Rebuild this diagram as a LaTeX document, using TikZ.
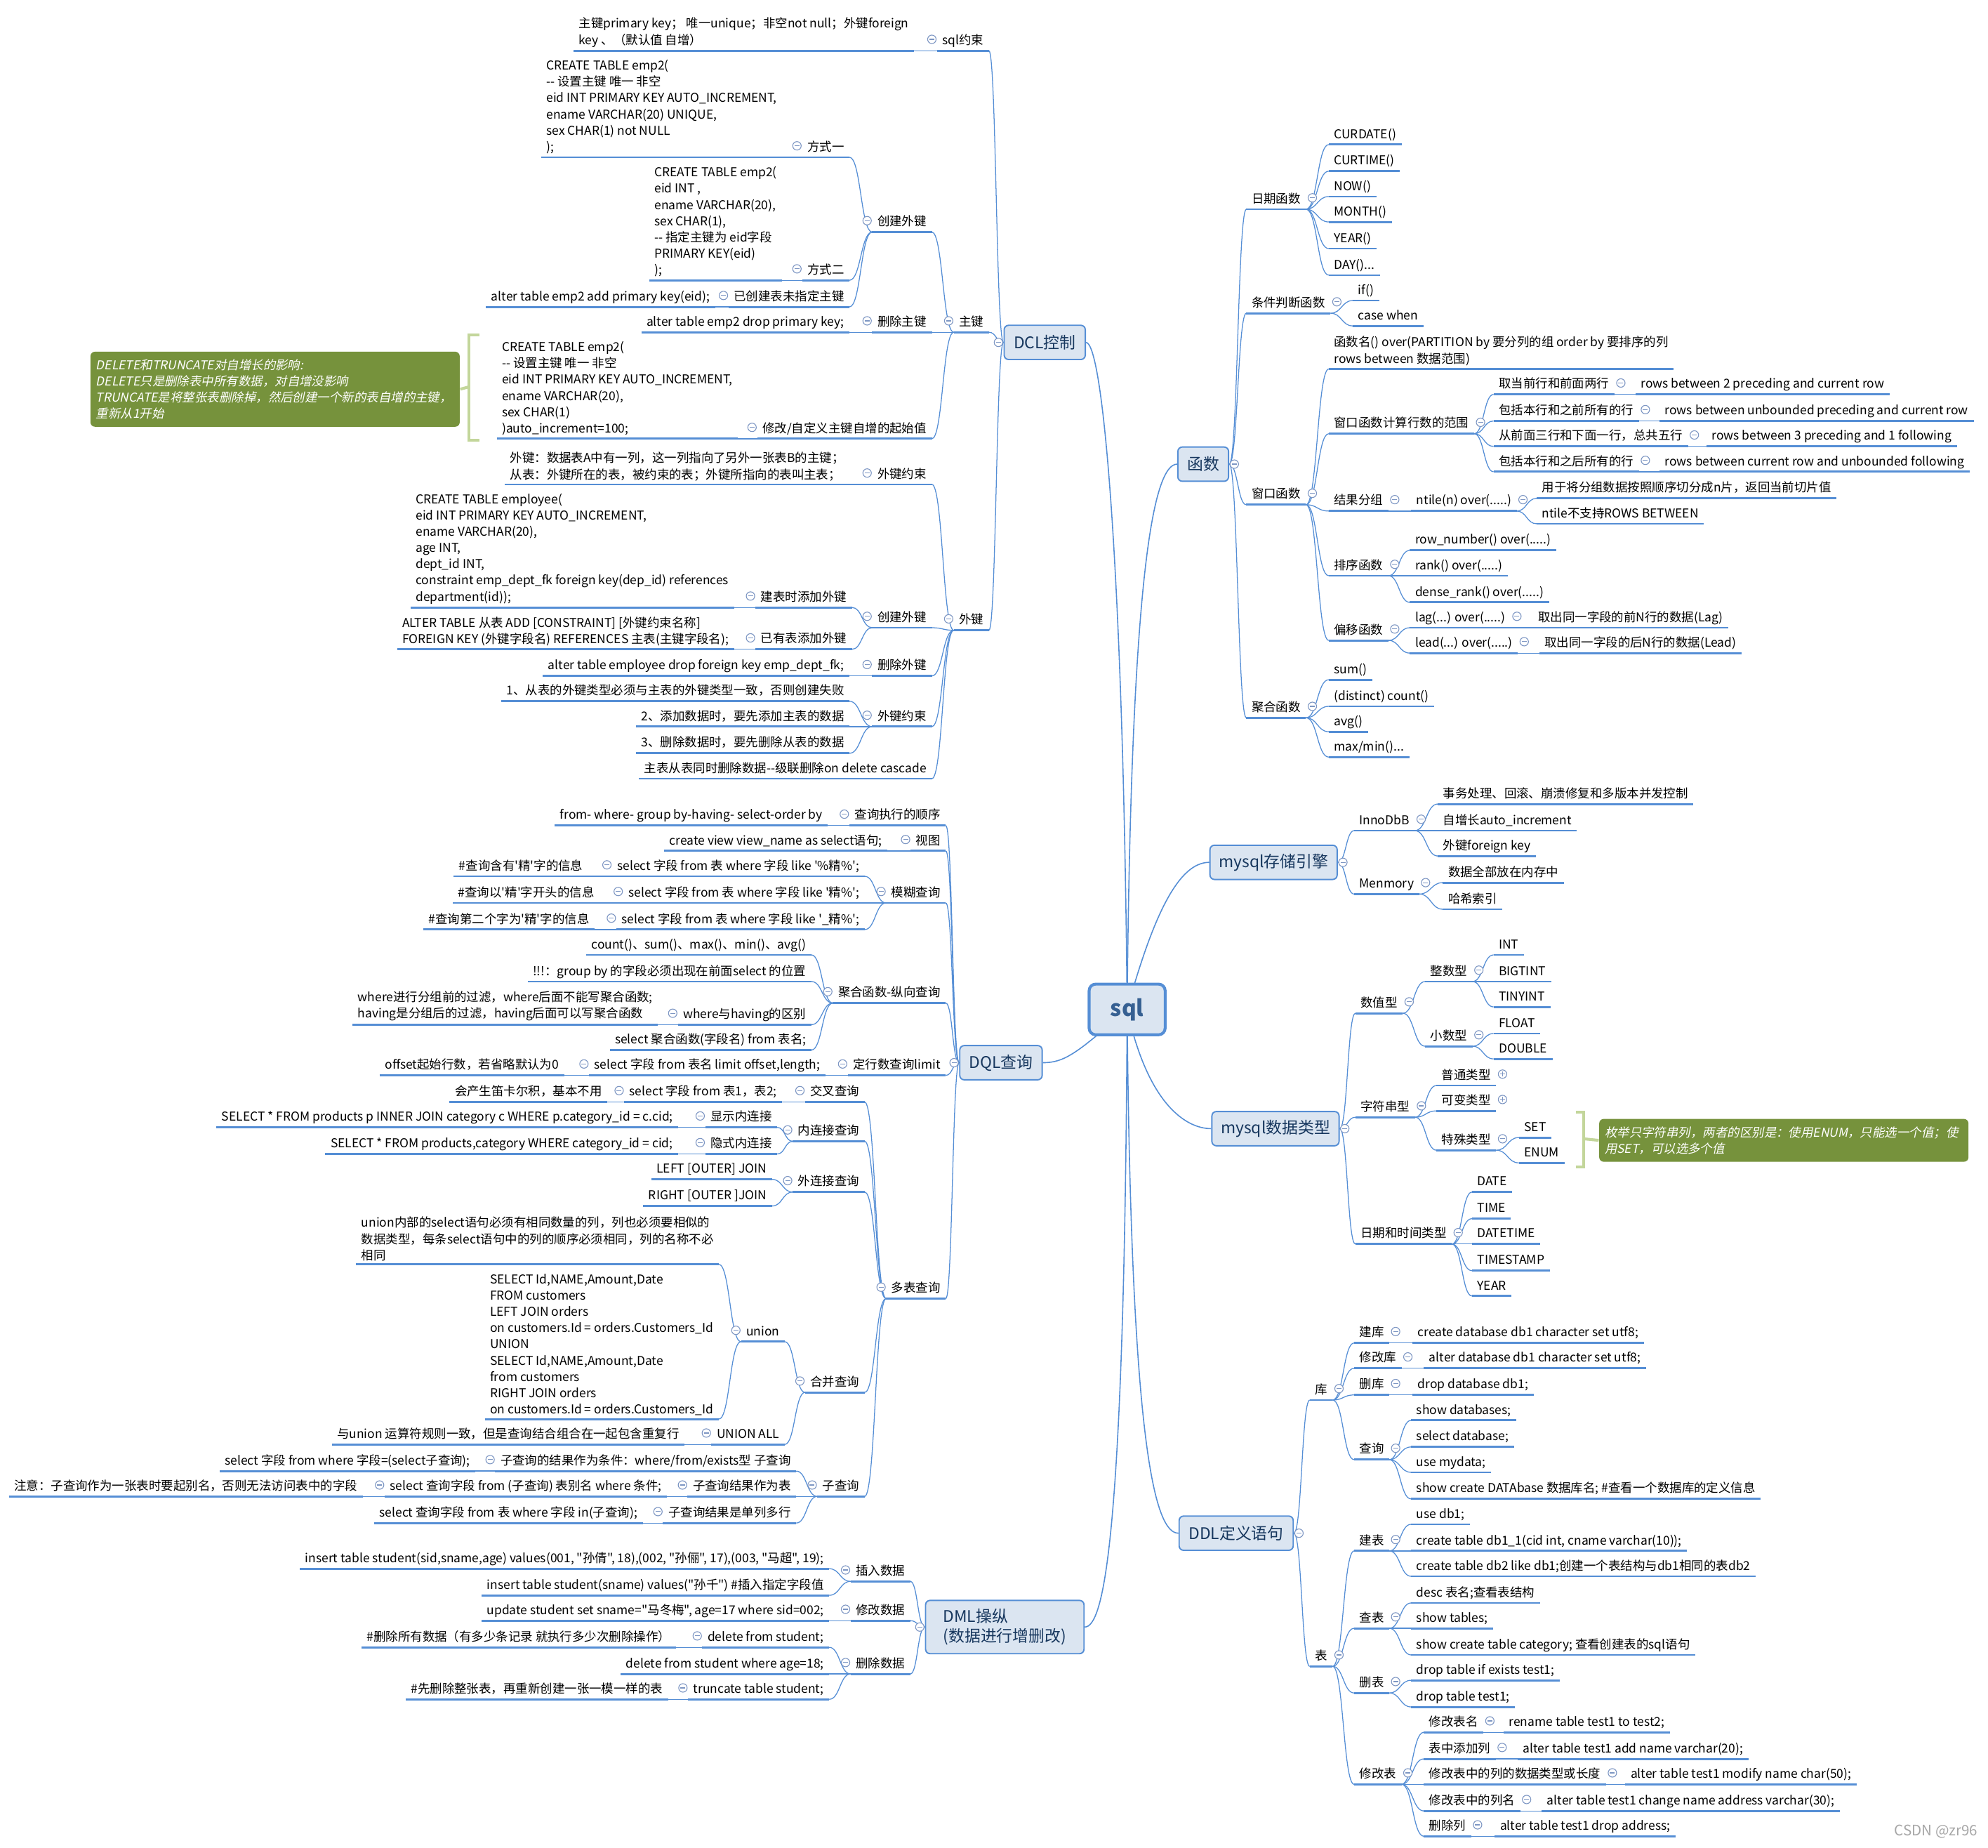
\documentclass[tikz,border=0pt]{standalone}
\usepackage{fontspec}
\newfontfamily\cjk{Noto Sans CJK SC}[AutoFakeSlant=0.2]
\usetikzlibrary{calc,backgrounds}

\definecolor{lineblue}{RGB}{85,142,213}
\definecolor{boxfill}{RGB}{219,229,241}
\definecolor{boxtext}{RGB}{23,55,94}
\definecolor{roottext}{RGB}{54,96,146}
\definecolor{notegreen}{RGB}{118,146,60}
\definecolor{bracketgreen}{RGB}{195,214,155}
\definecolor{foldgray}{RGB}{125,150,195}

\begin{document}
\begin{tikzpicture}[
    x=0.02cm, y=-0.02cm,
    uline/.style        = {draw=lineblue, line width=0.9pt},
    topic/.style        = {font=\cjk\fontsize{5.5}{7.3}\selectfont, inner xsep=2.2pt,
                           inner ysep=1.4pt, text height=4.6pt, text depth=1.2pt,
                           append after command={(\tikzlastnode.south west)
                             edge[uline] (\tikzlastnode.south east)}},
    code/.style         = {topic, text height=, text depth=, align=left},
    topic-l/.style      = {topic, anchor=south east},
    topic-r/.style      = {topic, anchor=south west},
    code-l/.style       = {code, anchor=south east},
    code-r/.style       = {code, anchor=south west},
    root/.style         = {draw=lineblue, line width=1.3pt, fill=boxfill, rounded corners=3pt,
                           text=roottext, font=\cjk\fontsize{10}{12}\selectfont\bfseries,
                           minimum width=1.2cm, minimum height=0.8cm},
    branch/.style       = {draw=lineblue, line width=0.6pt, fill=boxfill, rounded corners=2pt,
                           text=boxtext, font=\cjk\fontsize{7.2}{8.8}\selectfont,
                           minimum height=0.54cm, inner xsep=4pt, align=left},
    link/.style         = {draw=lineblue, line width=0.4pt,
                           to path={let \p1=(\tikztostart), \p2=(\tikztotarget) in
                             .. controls ({(\x1+\x2)/2},\y1) and ({(\x1+\x2)/2},\y2)
                             .. (\tikztotarget)}},
    trunk/.style        = {draw=lineblue, line width=0.5pt},
    fold/.style         = {circle, draw=foldgray, fill=white, line width=0.35pt,
                           inner sep=0pt, minimum size=3.8pt},
    fold-minus/.style   = {fold, path picture={\draw[foldgray, line width=0.35pt]
                             ([xshift=-1.1pt]path picture bounding box.center) --
                             ([xshift=1.1pt]path picture bounding box.center);}},
    fold-plus/.style    = {fold, path picture={\draw[foldgray, line width=0.35pt]
                             ([xshift=-1.1pt]path picture bounding box.center) --
                             ([xshift=1.1pt]path picture bounding box.center)
                             ([yshift=-1.1pt]path picture bounding box.center) --
                             ([yshift=1.1pt]path picture bounding box.center);}},
    note-box/.style     = {fill=notegreen, text=white, rounded corners=2pt,
                           font=\cjk\fontsize{5.5}{7.3}\selectfont\itshape,
                           align=left, inner xsep=2.5pt, text width=5.65cm},
    bracket-line/.style = {draw=bracketgreen, line width=1.3pt}
  ]
\useasboundingbox (0,0) rectangle (1568,1457);

% =========================================================
% Root and main branches
% =========================================================
\node[root] (sql) at (889,796) {sql};
\node[branch, minimum width=1.28cm] (dcl) at (824,270) {DCL控制};
\node[branch, minimum width=0.8cm] (fn) at (949,366) {函数};
\node[branch, minimum width=1.98cm] (eng) at (1004.5,680) {mysql存储引擎};
\node[branch, minimum width=2cm] (typ) at (1006,890) {mysql数据类型};
\node[branch, minimum width=1.8cm] (ddl) at (975,1209) {DDL定义语句};
\node[branch, minimum width=1.3cm] (dql) at (789.5,838) {DQL查询};
\node[branch, minimum width=2.5cm, minimum height=0.84cm] (dml) at (792.5,1283)
  {DML操纵\\(数据进行增删改)};

% =========================================================
% DCL branch (grows to the left)
% =========================================================
\node[topic-l] (c1) at (780,40) {sql约束};
\node[code-l] (c1a) at (721,40)
  {主键primary key； 唯一unique；非空not null；外键foreign\\key 、（默认值 自增）};
\node[topic-l] (c2) at (780,262) {主键};
\node[topic-l] (c2a) at (735,183) {创建外键};
\node[topic-l] (c2a1) at (670,124) {方式一};
\node[code-l] (c2a1x) at (617,124)
  {CREATE TABLE emp2(\\-- 设置主键 唯一 非空\\eid INT PRIMARY KEY AUTO\_INCREMENT,\\ename VARCHAR(20) UNIQUE,\\sex CHAR(1) not NULL\\);};
\node[topic-l] (c2a2) at (670,221) {方式二};
\node[code-l] (c2a2x) at (617,221)
  {CREATE TABLE emp2(\\eid INT ,\\ename VARCHAR(20),\\sex CHAR(1),\\-- 指定主键为 eid字段\\PRIMARY KEY(eid)\\);};
\node[topic-l] (c2a3) at (670,242) {已创建表未指定主键};
\node[topic-l] (c2a3x) at (564,242) {alter table emp2 add primary key(eid);};
\node[topic-l] (c2b) at (735,262) {删除主键};
\node[topic-l] (c2bx) at (670,262) {alter table emp2 drop primary key;};
\node[topic-l] (c2c) at (735,346) {修改/自定义主键自增的起始值};
\node[code-l] (c2cx) at (582,346)
  {CREATE TABLE emp2(\\-- 设置主键 唯一 非空\\eid INT PRIMARY KEY AUTO\_INCREMENT,\\ename VARCHAR(20),\\sex CHAR(1)\\)auto\_increment=100;};

% note on auto increment, with its bracket
\node[note-box, anchor=north west, minimum height=1.14cm] (n1) at (71,277)
  {DELETE和TRUNCATE对自增长的影响:\\DELETE只是删除表中所有数据，对自增没影响\\TRUNCATE是将整张表删除掉，然后创建一个新的表自增的主键，\\重新从1开始};
\draw[bracket-line] (378,264) -- (370,264) -- (370,347) -- (378,347);
\coordinate (b1) at (370,305);
\draw[bracket-line] (n1.east) -- (b1);

\node[topic-l] (c3) at (780,497) {外键};
\node[topic-l] (c3a) at (735,382) {外键约束};
\node[code-l] (c3ax) at (670,382)
  {外键：数据表A中有一列，这一列指向了另外一张表B的主键；\\从表：外键所在的表，被约束的表；外键所指向的表叫主表；};
\node[topic-l] (c3b) at (735,495) {创建外键};
\node[topic-l] (c3b1) at (672,479) {建表时添加外键};
\node[code-l] (c3b1x) at (579,479)
  {CREATE TABLE employee(\\eid INT PRIMARY KEY AUTO\_INCREMENT,\\ename VARCHAR(20),\\age INT,\\dept\_id INT,\\constraint emp\_dept\_fk foreign key(dep\_id) references\\department(id));};
\node[topic-l] (c3b2) at (672,512) {已有表添加外键};
\node[code-l] (c3b2x) at (579,512)
  {ALTER TABLE 从表 ADD [CONSTRAINT] [外键约束名称]\\FOREIGN KEY (外键字段名) REFERENCES 主表(主键字段名);};
\node[topic-l] (c3c) at (735,533) {删除外键};
\node[topic-l] (c3cx) at (670,533) {alter table employee drop foreign key emp\_dept\_fk;};
\node[topic-l] (c3d) at (735,573) {外键约束};
\node[topic-l] (c3d1) at (670,553) {1、从表的外键类型必须与主表的外键类型一致，否则创建失败};
\node[topic-l] (c3d2) at (670,573) {2、添加数据时，要先添加主表的数据};
\node[topic-l] (c3d3) at (670,594) {3、删除数据时，要先删除从表的数据};
\node[topic-l] (c3e) at (735,614) {主表从表同时删除数据--级联删除on delete cascade};

% =========================================================
% DQL branch (grows to the left)
% =========================================================
\node[topic-l] (q1) at (746,651) {查询执行的顺序};
\node[topic-l] (q1x) at (653,651) {from- where- group by-having- select-order by};
\node[topic-l] (q2) at (746,671) {视图};
\node[topic-l] (q2x) at (700,671) {create view view\_name as select语句;};
\node[topic-l] (q3) at (746,712) {模糊查询};
\node[topic-l] (q3a) at (682,691) {select 字段 from 表 where 字段 like '\%精\%';};
\node[topic-l] (q3ax) at (464,691) {\#查询含有'精'字的信息};
\node[topic-l] (q3b) at (682,712) {select 字段 from 表 where 字段 like '精\%';};
\node[topic-l] (q3bx) at (473,712) {\#查询以'精'字开头的信息};
\node[topic-l] (q3c) at (682,733) {select 字段 from 表 where 字段 like '\_精\%';};
\node[topic-l] (q3cx) at (469,733) {\#查询第二个字为'精'字的信息};
\node[topic-l] (q4) at (746,791) {聚合函数-纵向查询};
\node[topic-l] (q4a) at (640,753) {count()、sum()、max()、min()、avg()};
\node[topic-l] (q4b) at (640,774) {!!!：group by 的字段必须出现在前面select 的位置};
\node[topic-l] (q4c) at (640,808) {where与having的区别};
\node[code-l] (q4cx) at (519,808)
  {where进行分组前的过滤，where后面不能写聚合函数;\\having是分组后的过滤，having后面可以写聚合函数};
\node[topic-l] (q4d) at (640,828) {select 聚合函数(字段名) from 表名;};
\node[topic-l] (q5) at (746,848) {定行数查询limit};
\node[topic-l] (q5a) at (651,848) {select 字段 from 表名 limit offset,length;};
\node[topic-l] (q5ax) at (445,848) {offset起始行数，若省略默认为0};
\node[topic-l] (q6) at (746,1024) {多表查询};
\node[topic-l] (q6a) at (682,869) {交叉查询};
\node[topic-l] (q6ax) at (617,869) {select 字段 from 表1，表2;};
\node[topic-l] (q6axx) at (479,869) {会产生笛卡尔积，基本不用};
\node[topic-l] (q6b) at (682,900) {内连接查询};
\node[topic-l] (q6b1) at (613,889) {显示内连接};
\node[topic-l] (q6b1x) at (535,889) {SELECT * FROM products p INNER JOIN category c WHERE p.category\_id = c.cid;};
\node[topic-l] (q6b2) at (613,910) {隐式内连接};
\node[topic-l] (q6b2x) at (535,910) {SELECT * FROM products,category WHERE category\_id = cid;};
\node[topic-l] (q6c) at (682,940) {外连接查询};
\node[topic-l] (q6c1) at (609,930) {LEFT [OUTER] JOIN};
\node[topic-l] (q6c2) at (609,951) {RIGHT [OUTER ]JOIN};
\node[topic-l] (q6d) at (682,1098) {合并查询};
\node[topic-l] (q6d1) at (619,1058) {union};
\node[code-l] (q6d1a) at (567,997)
  {union内部的select语句必须有相同数量的列，列也必须要相似的\\数据类型，每条select语句中的列的顺序必须相同，列的名称不必\\相同};
\node[code-l] (q6d1b) at (567,1119)
  {SELECT Id,NAME,Amount,Date\\FROM customers\\LEFT JOIN orders\\on customers.Id = orders.Customers\_Id\\UNION\\SELECT Id,NAME,Amount,Date\\from customers\\RIGHT JOIN orders\\on customers.Id = orders.Customers\_Id};
\node[topic-l] (q6d2) at (619,1139) {UNION ALL};
\node[topic-l] (q6d2x) at (540,1139) {与union 运算符规则一致，但是查询结合组合在一起包含重复行};
\node[topic-l] (q6e) at (682,1180) {子查询};
\node[topic-l] (q6e1) at (628,1160) {子查询的结果作为条件：where/from/exists型 子查询};
\node[topic-l] (q6e1x) at (375,1160) {select 字段 from where 字段=(select子查询);};
\node[topic-l] (q6e2) at (628,1180) {子查询结果作为表};
\node[topic-l] (q6e2x) at (526,1180) {select 查询字段 from (子查询) 表别名 where 条件;};
\node[topic-l] (q6e2xx) at (286,1180) {注意：子查询作为一张表时要起别名，否则无法访问表中的字段};
\node[topic-l] (q6e3) at (628,1201) {子查询结果是单列多行};
\node[topic-l] (q6e3x) at (507,1201) {select 查询字段 from 表 where 字段 in(子查询);};

% =========================================================
% DML branch (grows to the left)
% =========================================================
\node[topic-l] (m1) at (718,1247) {插入数据};
\node[topic-l] (m1a) at (654,1237) {insert table student(sid,sname,age) values(001, "孙倩", 18),(002, "孙俪", 17),(003, "马超", 19);};
\node[topic-l] (m1b) at (654,1258) {insert table student(sname) values("孙千") \#插入指定字段值};
\node[topic-l] (m2) at (718,1278) {修改数据};
\node[topic-l] (m2x) at (654,1278) {update student set sname="马冬梅", age=17 where sid=002;};
\node[topic-l] (m3) at (718,1320) {删除数据};
\node[topic-l] (m3a) at (654,1299) {delete from student;};
\node[topic-l] (m3ax) at (533,1299) {\#删除所有数据（有多少条记录 就执行多少次删除操作）};
\node[topic-l] (m3b) at (654,1320) {delete from student where age=18;};
\node[topic-l] (m3c) at (654,1340) {truncate table student;};
\node[topic-l] (m3cx) at (527,1340) {\#先删除整张表，再重新创建一张一模一样的表};

% =========================================================
% Function branch (grows to the right)
% =========================================================
\node[topic-r] (f1) at (983,165) {日期函数};
\node[topic-r] (f1a) at (1048,114) {CURDATE()};
\node[topic-r] (f1b) at (1048,135) {CURTIME()};
\node[topic-r] (f1c) at (1048,155) {NOW()};
\node[topic-r] (f1d) at (1048,175) {MONTH()};
\node[topic-r] (f1e) at (1048,196) {YEAR()};
\node[topic-r] (f1f) at (1048,217) {DAY()...};
\node[topic-r] (f2) at (983,247) {条件判断函数};
\node[topic-r] (f2a) at (1067,237) {if()};
\node[topic-r] (f2b) at (1067,257) {case when};
\node[topic-r] (f3) at (983,398) {窗口函数};
\node[code-r] (f3a) at (1048,291)
  {函数名() over(PARTITION by 要分列的组 order by 要排序的列\\rows between 数据范围)};
\node[topic-r] (f3b) at (1048,342) {窗口函数计算行数的范围};
\node[topic-r] (f3b1) at (1178,311) {取当前行和前面两行};
\node[topic-r] (f3b1x) at (1290,311) {rows between 2 preceding and current row};
\node[topic-r] (f3b2) at (1178,332) {包括本行和之前所有的行};
\node[topic-r] (f3b2x) at (1309,332) {rows between unbounded preceding and current row};
\node[topic-r] (f3b3) at (1178,352) {从前面三行和下面一行，总共五行};
\node[topic-r] (f3b3x) at (1346,352) {rows between 3 preceding and 1 following};
\node[topic-r] (f3b4) at (1178,372) {包括本行和之后所有的行};
\node[topic-r] (f3b4x) at (1309,372) {rows between current row and unbounded following};
\node[topic-r] (f3c) at (1048,403) {结果分组};
\node[topic-r] (f3cx) at (1113,403) {ntile(n) over(.....)};
\node[topic-r] (f3cx1) at (1212,393) {用于将分组数据按照顺序切分成n片，返回当前切片值};
\node[topic-r] (f3cx2) at (1212,413) {ntile不支持ROWS BETWEEN};
\node[topic-r] (f3d) at (1048,454) {排序函数};
\node[topic-r] (f3d1) at (1112,434) {row\_number() over(.....)};
\node[topic-r] (f3d2) at (1112,454) {rank() over(.....)};
\node[topic-r] (f3d3) at (1112,475) {dense\_rank() over(.....)};
\node[topic-r] (f3e) at (1048,505) {偏移函数};
\node[topic-r] (f3e1) at (1112,495) {lag(...) over(.....)};
\node[topic-r] (f3e1x) at (1209,495) {取出同一字段的前N行的数据(Lag)};
\node[topic-r] (f3e2) at (1112,515) {lead(...) over(.....)};
\node[topic-r] (f3e2x) at (1214,515) {取出同一字段的后N行的数据(Lead)};
\node[topic-r] (f4) at (983,566) {聚合函数};
\node[topic-r] (f4a) at (1048,536) {sum()};
\node[topic-r] (f4b) at (1048,557) {(distinct) count()};
\node[topic-r] (f4c) at (1048,577) {avg()};
\node[topic-r] (f4d) at (1048,597) {max/min()...};

% =========================================================
% Storage engine branch
% =========================================================
\node[topic-r] (s1) at (1068,655) {InnoDbB};
\node[topic-r] (s1a) at (1134,634) {事务处理、回滚、崩溃修复和多版本并发控制};
\node[topic-r] (s1b) at (1134,655) {自增长auto\_increment};
\node[topic-r] (s1c) at (1134,675) {外键foreign key};
\node[topic-r] (s2) at (1068,705) {Menmory};
\node[topic-r] (s2a) at (1138,696) {数据全部放在内存中};
\node[topic-r] (s2b) at (1138,717) {哈希索引};

% =========================================================
% Data type branch
% =========================================================
\node[topic-r] (t1) at (1069,799) {数值型};
\node[topic-r] (t1a) at (1124,774) {整数型};
\node[topic-r] (t1a1) at (1178,753) {INT};
\node[topic-r] (t1a2) at (1178,774) {BIGTINT};
\node[topic-r] (t1a3) at (1178,794) {TINYINT};
\node[topic-r] (t1b) at (1124,825) {小数型};
\node[topic-r] (t1b1) at (1178,815) {FLOAT};
\node[topic-r] (t1b2) at (1178,835) {DOUBLE};
\node[topic-r] (t2) at (1069,881) {字符串型};
\node[topic-r] (t2a) at (1133,856) {普通类型};
\node[topic-r] (t2b) at (1133,876) {可变类型};
\node[topic-r] (t2c) at (1133,907) {特殊类型};
\node[topic-r] (t2c1) at (1198,897) {SET};
\node[topic-r] (t2c2) at (1198,917) {ENUM};
\node[topic-r] (t3) at (1069,981) {日期和时间类型};
\node[topic-r] (t3a) at (1161,940) {DATE};
\node[topic-r] (t3b) at (1161,961) {TIME};
\node[topic-r] (t3c) at (1161,981) {DATETIME};
\node[topic-r] (t3d) at (1161,1002) {TIMESTAMP};
\node[topic-r] (t3e) at (1161,1022) {YEAR};

% note on SET / ENUM, with its bracket
\node[note-box, anchor=north west, minimum height=0.64cm] (n2) at (1261,882)
  {枚举只字符串列，两者的区别是：使用ENUM，只能选一个值；使\\用SET，可以选多个值};
\draw[bracket-line] (1243,877) -- (1249,877) -- (1249,920) -- (1243,920);
\coordinate (b2) at (1249,898);
\draw[bracket-line] (b2) -- (n2.west);

% =========================================================
% DDL branch
% =========================================================
\node[topic-r] (l1) at (1033,1104) {库};
\node[topic-r] (l1a) at (1068,1059) {建库};
\node[topic-r] (l1ax) at (1114,1059) {create database db1 character set utf8;};
\node[topic-r] (l1b) at (1068,1079) {修改库};
\node[topic-r] (l1bx) at (1123,1079) {alter database db1 character set utf8;};
\node[topic-r] (l1c) at (1068,1100) {删库};
\node[topic-r] (l1cx) at (1114,1100) {drop database db1;};
\node[topic-r] (l1d) at (1068,1151) {查询};
\node[topic-r] (l1d1) at (1113,1120) {show databases;};
\node[topic-r] (l1d2) at (1113,1141) {select database;};
\node[topic-r] (l1d3) at (1113,1161) {use mydata;};
\node[topic-r] (l1d4) at (1113,1182) {show create DATAbase 数据库名; \#查看一个数据库的定义信息};
\node[topic-r] (l2) at (1033,1314) {表};
\node[topic-r] (l2a) at (1068,1223) {建表};
\node[topic-r] (l2a1) at (1113,1202) {use db1;};
\node[topic-r] (l2a2) at (1113,1223) {create table db1\_1(cid int, cname varchar(10));};
\node[topic-r] (l2a3) at (1113,1243) {create table db2 like db1;创建一个表结构与db1相同的表db2};
\node[topic-r] (l2b) at (1068,1284) {查表};
\node[topic-r] (l2b1) at (1113,1264) {desc 表名;查看表结构};
\node[topic-r] (l2b2) at (1113,1284) {show tables;};
\node[topic-r] (l2b3) at (1113,1305) {show create table category; 查看创建表的sql语句};
\node[topic-r] (l2c) at (1068,1335) {删表};
\node[topic-r] (l2c1) at (1113,1325) {drop table if exists test1;};
\node[topic-r] (l2c2) at (1113,1346) {drop table test1;};
\node[topic-r] (l2d) at (1068,1407) {修改表};
\node[topic-r] (l2d1) at (1123,1366) {修改表名};
\node[topic-r] (l2d1x) at (1186,1366) {rename table test1 to test2;};
\node[topic-r] (l2d2) at (1123,1387) {表中添加列};
\node[topic-r] (l2d2x) at (1197,1387) {alter table test1 add name varchar(20);};
\node[topic-r] (l2d3) at (1123,1407) {修改表中的列的数据类型或长度};
\node[topic-r] (l2d3x) at (1282,1407) {alter table test1 modify name char(50);};
\node[topic-r] (l2d4) at (1123,1428) {修改表中的列名};
\node[topic-r] (l2d4x) at (1216,1428) {alter table test1 change name address varchar(30);};
\node[topic-r] (l2d5) at (1123,1448) {删除列};
\node[topic-r] (l2d5x) at (1179,1448) {alter table test1 drop address;};

\node[anchor=south east, text=black!35, font=\cjk\fontsize{6.5}{8}\selectfont] (wm) at (1566,1456) {CSDN @zr96};

% =========================================================
% Fold markers
% =========================================================
\foreach \n in {c1,c2,c2a,c2a1,c2a2,c2a3,c2b,c2c,c3,c3a,c3b,c3b1,c3b2,c3c,c3d,
                q1,q2,q3,q3a,q3b,q3c,q4,q4c,q5,q5a,q6,q6a,q6ax,q6b,q6b1,q6b2,q6c,
                q6d,q6d1,q6d2,q6e,q6e1,q6e2,q6e2x,q6e3,m1,m2,m3,m3a,m3c}
  \node[fold-minus] (fd-\n) at ([xshift=-0.08cm,yshift=0.18cm]\n.south west) {};
\foreach \n in {f1,f2,f3,f3b,f3b1,f3b2,f3b3,f3b4,f3c,f3cx,f3d,f3e,f3e1,f3e2,f4,
                s1,s2,t1,t1a,t1b,t2,t2c,t3,l1,l1a,l1b,l1c,l1d,l2,l2a,l2b,l2c,l2d,
                l2d1,l2d2,l2d3,l2d4,l2d5}
  \node[fold-minus] (fd-\n) at ([xshift=0.1cm,yshift=0.18cm]\n.south east) {};
\foreach \n in {t2a,t2b}
  \node[fold-plus] (fd-\n) at ([xshift=0.1cm,yshift=0.18cm]\n.south east) {};
\foreach \n in {dcl,dql,dml}
  \node[fold-minus] (fd-\n) at ([xshift=-0.08cm]\n.west) {};
\foreach \n in {fn,eng,typ,ddl}
  \node[fold-minus] (fd-\n) at ([xshift=0.08cm]\n.east) {};

% =========================================================
% Connectors (behind everything)
% =========================================================
\begin{scope}[on background layer]
  % root to main branches
  \draw[trunk] (sql.center) .. controls (886,450) and (870,270) .. (dcl.east);
  \draw[trunk] (sql.center) .. controls (892,450) and (910,366) .. (fn.west);
  \draw[trunk] (sql.center) .. controls (910,720) and (930,680) .. (eng.west);
  \draw[trunk] (sql.center) .. controls (905,870) and (935,890) .. (typ.west);
  \draw[trunk] (sql.center) .. controls (892,1150) and (912,1209) .. (ddl.west);
  \draw[trunk] (sql.center) .. controls (887,1220) and (870,1283) .. (dml.east);
  \draw[trunk] (sql.center) .. controls (850,830) and (840,838) .. (dql.east);

  % main branches to their topics
  \foreach \ch in {c1,c2,c3} \draw[link] (dcl.west) to (\ch.south east);
  \foreach \ch in {q1,q2,q3,q4,q5,q6} \draw[link] (dql.west) to (\ch.south east);
  \foreach \ch in {m1,m2,m3} \draw[link] (dml.west) to (\ch.south east);
  \foreach \ch in {f1,f2,f3,f4} \draw[link] (fn.east) to (\ch.south west);
  \foreach \ch in {s1,s2} \draw[link] (eng.east) to (\ch.south west);
  \foreach \ch in {t1,t2,t3} \draw[link] (typ.east) to (\ch.south west);
  \foreach \ch in {l1,l2} \draw[link] (ddl.east) to (\ch.south west);

  % left side, parent to child
  \foreach \pa/\ch in {c1/c1a, c2/c2a, c2/c2b, c2/c2c, c2a/c2a1, c2a/c2a2, c2a/c2a3,
      c2a1/c2a1x, c2a2/c2a2x, c2a3/c2a3x, c2b/c2bx, c2c/c2cx, c3/c3a, c3/c3b, c3/c3c,
      c3/c3d, c3/c3e, c3a/c3ax, c3b/c3b1, c3b/c3b2, c3b1/c3b1x, c3b2/c3b2x, c3c/c3cx,
      c3d/c3d1, c3d/c3d2, c3d/c3d3,
      q1/q1x, q2/q2x, q3/q3a, q3/q3b, q3/q3c, q3a/q3ax, q3b/q3bx, q3c/q3cx, q4/q4a,
      q4/q4b, q4/q4c, q4/q4d, q4c/q4cx, q5/q5a, q5a/q5ax, q6/q6a, q6/q6b, q6/q6c,
      q6/q6d, q6/q6e, q6a/q6ax, q6ax/q6axx, q6b/q6b1, q6b/q6b2, q6b1/q6b1x,
      q6b2/q6b2x, q6c/q6c1, q6c/q6c2, q6d/q6d1, q6d/q6d2, q6d1/q6d1a, q6d1/q6d1b,
      q6d2/q6d2x, q6e/q6e1, q6e/q6e2, q6e/q6e3, q6e1/q6e1x, q6e2/q6e2x,
      q6e2x/q6e2xx, q6e3/q6e3x,
      m1/m1a, m1/m1b, m2/m2x, m3/m3a, m3/m3b, m3/m3c, m3a/m3ax, m3c/m3cx}
    \draw[link] (\pa.south west) to (\ch.south east);

  % right side, parent to child
  \foreach \pa/\ch in {f1/f1a, f1/f1b, f1/f1c, f1/f1d, f1/f1e, f1/f1f, f2/f2a, f2/f2b,
      f3/f3a, f3/f3b, f3/f3c, f3/f3d, f3/f3e, f3b/f3b1, f3b/f3b2, f3b/f3b3, f3b/f3b4,
      f3b1/f3b1x, f3b2/f3b2x, f3b3/f3b3x, f3b4/f3b4x, f3c/f3cx, f3cx/f3cx1,
      f3cx/f3cx2, f3d/f3d1, f3d/f3d2, f3d/f3d3, f3e/f3e1, f3e/f3e2, f3e1/f3e1x,
      f3e2/f3e2x, f4/f4a, f4/f4b, f4/f4c, f4/f4d,
      s1/s1a, s1/s1b, s1/s1c, s2/s2a, s2/s2b,
      t1/t1a, t1/t1b, t1a/t1a1, t1a/t1a2, t1a/t1a3, t1b/t1b1, t1b/t1b2, t2/t2a,
      t2/t2b, t2/t2c, t2c/t2c1, t2c/t2c2, t3/t3a, t3/t3b, t3/t3c, t3/t3d, t3/t3e,
      l1/l1a, l1/l1b, l1/l1c, l1/l1d, l1a/l1ax, l1b/l1bx, l1c/l1cx, l1d/l1d1,
      l1d/l1d2, l1d/l1d3, l1d/l1d4, l2/l2a, l2/l2b, l2/l2c, l2/l2d, l2a/l2a1,
      l2a/l2a2, l2a/l2a3, l2b/l2b1, l2b/l2b2, l2b/l2b3, l2c/l2c1, l2c/l2c2,
      l2d/l2d1, l2d/l2d2, l2d/l2d3, l2d/l2d4, l2d/l2d5, l2d1/l2d1x, l2d2/l2d2x,
      l2d3/l2d3x, l2d4/l2d4x, l2d5/l2d5x}
    \draw[link] (\pa.south east) to (\ch.south west);
\end{scope}

\end{tikzpicture}
\end{document}
